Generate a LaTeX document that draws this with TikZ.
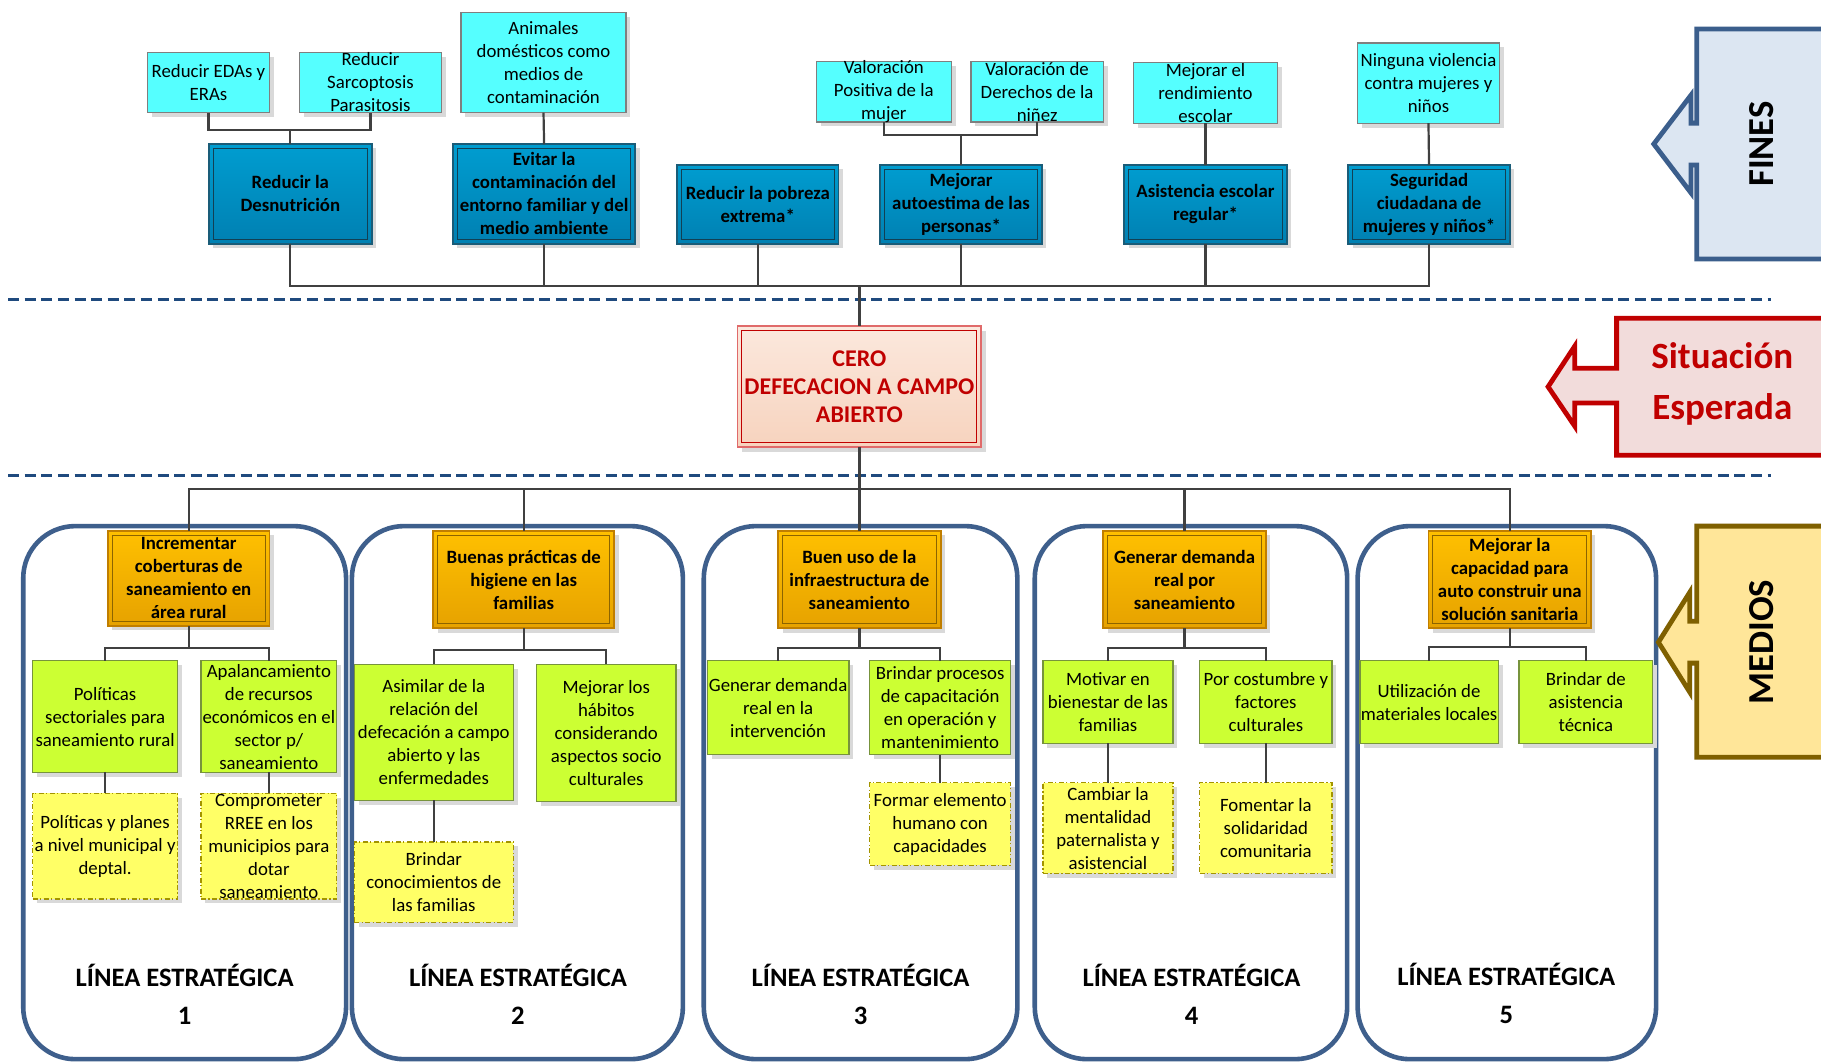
\documentclass[tikz,border=0pt]{standalone}
\usepackage{fontspec}
\setmainfont{Carlito}
\usetikzlibrary{shadows}
\definecolor{cyanF}{HTML}{55FFFF}
\definecolor{cyanD}{HTML}{7F7F7F}
\definecolor{blueT}{HTML}{009DD0}
\definecolor{blueB}{HTML}{0080B2}
\definecolor{blueD}{HTML}{1A5C78}
\definecolor{oraT}{HTML}{FFC000}
\definecolor{oraB}{HTML}{E6A200}
\definecolor{oraD}{HTML}{C07E00}
\definecolor{oraI}{HTML}{8C6400}
\definecolor{redT}{HTML}{FBE8DD}
\definecolor{redB}{HTML}{F7D3BE}
\definecolor{redD}{HTML}{C00000}
\definecolor{redL}{HTML}{E06A6A}
\definecolor{grnF}{HTML}{CCFF33}
\definecolor{grnD}{HTML}{77933C}
\definecolor{yelF}{HTML}{FFFF66}
\definecolor{yelD}{HTML}{A39400}
\definecolor{contD}{HTML}{3E5F8C}
\definecolor{dashC}{HTML}{1F4A7E}
\definecolor{connC}{HTML}{404040}
\definecolor{finF}{HTML}{DCE6F2}
\definecolor{finD}{HTML}{3B5E8C}
\definecolor{sitF}{HTML}{F2DCDB}
\definecolor{medF}{HTML}{FFE699}
\definecolor{medD}{HTML}{7F6000}
\newcommand\fs[2]{\fontsize{#1}{#2}\selectfont}
\newcommand\bx[8]{%
  \pgfmathsetmacro\bxcx{(#4+#6)/2}%
  \pgfmathsetmacro\bxcy{(#5+#7)/2}%
  \pgfmathsetmacro\bxw{(#6-#4)*0.5807}%
  \pgfmathsetmacro\bxh{(#7-#5)*0.5807}%
  \node[#2,minimum width=\bxw pt,minimum height=\bxh pt,inner sep=0pt,outer sep=0pt] (#1) at (\bxcx,\bxcy) {};%
  \node[#3] (#1t) at (#1.center) {#8};%
}
\tikzset{
  shad/.style={drop shadow={shadow xshift=2.2pt,shadow yshift=-2.2pt,fill=black!15,opacity=1}},
  cyanbox/.style={draw=cyanD,fill=cyanF,line width=0.6pt,shad},
  bluebox/.style={draw=blueD,top color=blueT,bottom color=blueB,line width=0.9pt,shad},
  orabox/.style={draw=oraD,top color=oraT,bottom color=oraB,line width=0.9pt,shad},
  redbox/.style={draw=redL,top color=redT,bottom color=redB,line width=0.9pt,shad},
  grnbox/.style={draw=grnD,fill=grnF,line width=0.6pt,shad},
  yelbox/.style={draw=yelD,fill=yelF,line width=0.6pt,dash pattern=on 2.5pt off 1.2pt on 0.6pt off 1.2pt,shad},
  contbox/.style={draw=contD,line width=2.3pt,rounded corners=26pt},
  conn/.style={draw=connC,line width=1.1pt},
  dashln/.style={draw=dashC,line width=1.5pt,dash pattern=on 5.5pt off 2.8pt},
  tn/.style={align=center,inner sep=0pt,font=\fs{9.4}{11.5}},
  tbd/.style={align=center,inner sep=0pt,font=\bfseries\fs{9.4}{11.5}},
  tcero/.style={align=center,inner sep=0pt,text=redD,font=\bfseries\fs{12}{14.2}},
  linea/.style={align=center,inner sep=0pt,font=\bfseries\fs{13.3}{19}},
  inB/.style={draw=blueD!70!black,line width=0.5pt},
  inO/.style={draw=oraI,line width=0.5pt},
  inR/.style={draw=redD,line width=0.5pt},
}
\begin{document}
\begin{tikzpicture}[x=0.5807pt,y=-0.5807pt]
\clip (0,0) rectangle (1568,916);
\fill[white] (0,0) rectangle (1568,916);
% dashed separators
\draw[dashln] (7,258) -- (1525,258);
\draw[dashln] (7,409) -- (1525,409);
% containers
\draw[contbox] (20,453) rectangle (298,912);
\draw[contbox] (303,453) rectangle (588,912);
\draw[contbox] (606,453) rectangle (876,912);
\draw[contbox] (891,453) rectangle (1160,912);
\draw[contbox] (1169,453) rectangle (1426,912);
% cyan boxes
\bx{c1}{cyanbox}{tn}{127}{45}{232}{97}{Reducir EDAs y\\ERAs}
\bx{c2}{cyanbox}{tn}{258}{45}{380}{97}{Reducir\\Sarcoptosis\\Parasitosis}
\bx{c3}{cyanbox}{tn}{397}{11}{539}{97}{Animales\\domésticos como\\medios de\\contaminación}
\bx{c4}{cyanbox}{tn}{703}{53}{819}{105}{Valoración\\Positiva de la\\mujer}
\bx{c5}{cyanbox}{tn}{836}{53}{950}{105}{Valoración de\\Derechos de la\\niñez}
\bx{c6}{cyanbox}{tn}{976}{54}{1100}{106}{Mejorar el\\rendimiento\\escolar}
\bx{c7}{cyanbox}{tn}{1169}{37}{1291}{106}{Ninguna violencia\\contra mujeres y\\niños}
% blue boxes
\bx{A}{bluebox}{tbd}{180}{124}{320}{210}{Reducir la\\Desnutrición}
\bx{B}{bluebox}{tbd}{390}{124}{547}{210}{Evitar la\\contaminación del\\entorno familiar y del\\medio ambiente}
\bx{C}{bluebox}{tbd}{583}{142}{722}{210}{Reducir la pobreza\\extrema*}
\bx{D}{bluebox}{tbd}{758}{142}{897}{210}{Mejorar\\autoestima de las\\personas*}
\bx{E}{bluebox}{tbd}{968}{142}{1108}{210}{Asistencia escolar\\regular*}
\bx{F}{bluebox}{tbd}{1161}{142}{1300}{210}{Seguridad\\ciudadana de\\mujeres y niños*}
\foreach \n in {A,B,C,D,E,F}
  \draw[inB] ([shift={(2.2pt,-2.2pt)}]\n.north west) rectangle ([shift={(-2.2pt,2.2pt)}]\n.south east);
% central box
\bx{cero}{redbox}{tcero}{635}{281}{845}{385}{CERO\\DEFECACION A CAMPO\\ABIERTO}
\draw[inR] ([shift={(2.2pt,-2.2pt)}]cero.north west) rectangle ([shift={(-2.2pt,2.2pt)}]cero.south east);
% orange boxes
\bx{o1}{orabox}{tbd}{93}{457}{232}{539}{Incrementar\\coberturas de\\saneamiento en\\área rural}
\bx{o2}{orabox}{tbd}{373}{457}{529}{541}{Buenas prácticas de\\higiene en las\\familias}
\bx{o3}{orabox}{tbd}{670}{457}{810}{541}{Buen uso de la\\infraestructura de\\saneamiento}
\bx{o4}{orabox}{tbd}{950}{457}{1090}{541}{Generar demanda\\real por\\saneamiento}
\bx{o5}{orabox}{tbd}{1230}{457}{1370}{541}{Mejorar la\\capacidad para\\auto construir una\\solución sanitaria}
\foreach \n in {o1,o2,o3,o4,o5}
  \draw[inO] ([shift={(2.2pt,-2.2pt)}]\n.north west) rectangle ([shift={(-2.2pt,2.2pt)}]\n.south east);
% green boxes
\bx{g11}{grnbox}{tn}{28}{569}{153}{665}{Políticas\\sectoriales para\\saneamiento rural}
\bx{g12}{grnbox}{tn}{173}{569}{290}{665}{Apalancamiento\\de recursos\\económicos en el\\sector p/\\saneamiento}
\bx{g21}{grnbox}{tn}{305}{572}{442}{689}{Asimilar de la\\relación del\\defecación a campo\\abierto y las\\enfermedades}
\bx{g22}{grnbox}{tn}{462}{572}{582}{690}{Mejorar los\\hábitos\\considerando\\aspectos socio\\culturales}
\bx{g31}{grnbox}{tn}{609}{569}{731}{650}{Generar demanda\\real en la\\intervención}
\bx{g32}{grnbox}{tn}{749}{569}{870}{650}{Brindar procesos\\de capacitación\\en operación y\\mantenimiento}
\bx{g41}{grnbox}{tn}{898}{569}{1010}{640}{Motivar en\\bienestar de las\\familias}
\bx{g42}{grnbox}{tn}{1033}{569}{1147}{640}{Por costumbre y\\factores\\culturales}
\bx{g51}{grnbox}{tn}{1171}{569}{1290}{640}{Utilización de\\materiales locales}
\bx{g52}{grnbox}{tn}{1308}{569}{1423}{640}{Brindar de\\asistencia\\técnica}
% yellow boxes
\bx{y11}{yelbox}{tn}{28}{683}{153}{774}{Políticas y planes\\a nivel municipal y\\deptal.}
\bx{y12}{yelbox}{tn}{173}{683}{290}{774}{Comprometer\\RREE en los\\municipios para\\dotar\\saneamiento}
\bx{y21}{yelbox}{tn}{305}{725}{442}{794}{Brindar\\conocimientos de\\las familias}
\bx{y32}{yelbox}{tn}{749}{674}{870}{745}{Formar elemento\\humano con\\capacidades}
\bx{y41}{yelbox}{tn}{898}{674}{1010}{752}{Cambiar la\\mentalidad\\paternalista y\\asistencial}
\bx{y42}{yelbox}{tn}{1033}{674}{1147}{752}{Fomentar la\\solidaridad\\comunitaria}
% connectors top
\coordinate (jA) at (250,112);
\draw[conn] (c1.south) |- (jA) -| (c2.south);
\draw[conn] (jA) -- (A.north);
\draw[conn] (c3.south) -- (B.north);
\coordinate (jD) at (827.5,116);
\draw[conn] (c4.south) |- (jD) -| (c5.south);
\draw[conn] (jD) -- (D.north);
\draw[conn] (c6.south) -- (E.north);
\draw[conn] (c7.south) -- (F.north);
\coordinate (busT) at (740,246);
\draw[conn] (A.south) |- (busT) -| (F.south);
\foreach \n in {B,C,D,E} \draw[conn] (\n.south) -- (\n.south |- busT);
\draw[conn] (busT) -- (cero.north);
% connectors bottom
\coordinate (busB) at (740,421);
\draw[conn] (cero.south) -- (busB);
\draw[conn] (o1.north) |- (busB) -| (o5.north);
\foreach \n in {o2,o3,o4} \draw[conn] (\n.north) -- (\n.north |- busB);
\foreach \o/\a/\b/\d in {o1/g11/g12/19,o2/g21/g22/19,o3/g31/g32/17,o4/g41/g42/17,o5/g51/g52/16}{
  \draw[conn] (\o.south) -- ++(0,\d) coordinate (j\o);
  \draw[conn] (\a.north) |- (j\o) -| (\b.north);
}
\draw[conn] (g11.south) -- (y11.north);
\draw[conn] (g12.south) -- (y12.north);
\draw[conn] (g21.south) -- (y21.north);
\draw[conn] (g32.south) -- (y32.north);
\draw[conn] (g41.south) -- (y41.north);
\draw[conn] (g42.south) -- (y42.north);
% strategic line labels
\node[linea] (l1) at (159,856) {LÍNEA ESTRATÉGICA\\1};
\node[linea] (l2) at (446,856) {LÍNEA ESTRATÉGICA\\2};
\node[linea] (l3) at (741,856) {LÍNEA ESTRATÉGICA\\3};
\node[linea] (l4) at (1026,856) {LÍNEA ESTRATÉGICA\\4};
\node[linea] (l5) at (1297,855) {LÍNEA ESTRATÉGICA\\5};
% callouts
\draw[draw=finD,fill=finF,line width=2.4pt,line join=miter]
  (1461,25) -- (1600,25) -- (1600,223) -- (1461,223) -- (1461,142) -- (1456,142) -- (1456,166)
  -- (1424,124) -- (1456,82) -- (1456,106) -- (1461,106) -- cycle;
\node[rotate=90,font=\bfseries\fs{18.3}{22}] (fines) at (1517,124) {FINES};
\draw[draw=redD,fill=sitF,line width=2.4pt,line join=miter]
  (1392,274) -- (1600,274) -- (1600,392) -- (1392,392) -- (1392,347) -- (1356,347) -- (1356,367)
  -- (1333,333) -- (1356,298) -- (1356,317) -- (1392,317) -- cycle;
\node[align=center,text=redD,font=\bfseries\fs{18.5}{25.5}] (sit) at (1483,331) {Situación\\Esperada};
\draw[draw=medD,fill=medF,line width=2.4pt,line join=miter]
  (1461,453) -- (1600,453) -- (1600,652) -- (1461,652) -- (1461,571) -- (1455,571) -- (1455,596)
  -- (1428,553) -- (1455,510) -- (1455,535) -- (1461,535) -- cycle;
\node[rotate=90,font=\bfseries\fs{18.3}{22}] (medios) at (1517,553) {MEDIOS};
\end{tikzpicture}
\end{document}
